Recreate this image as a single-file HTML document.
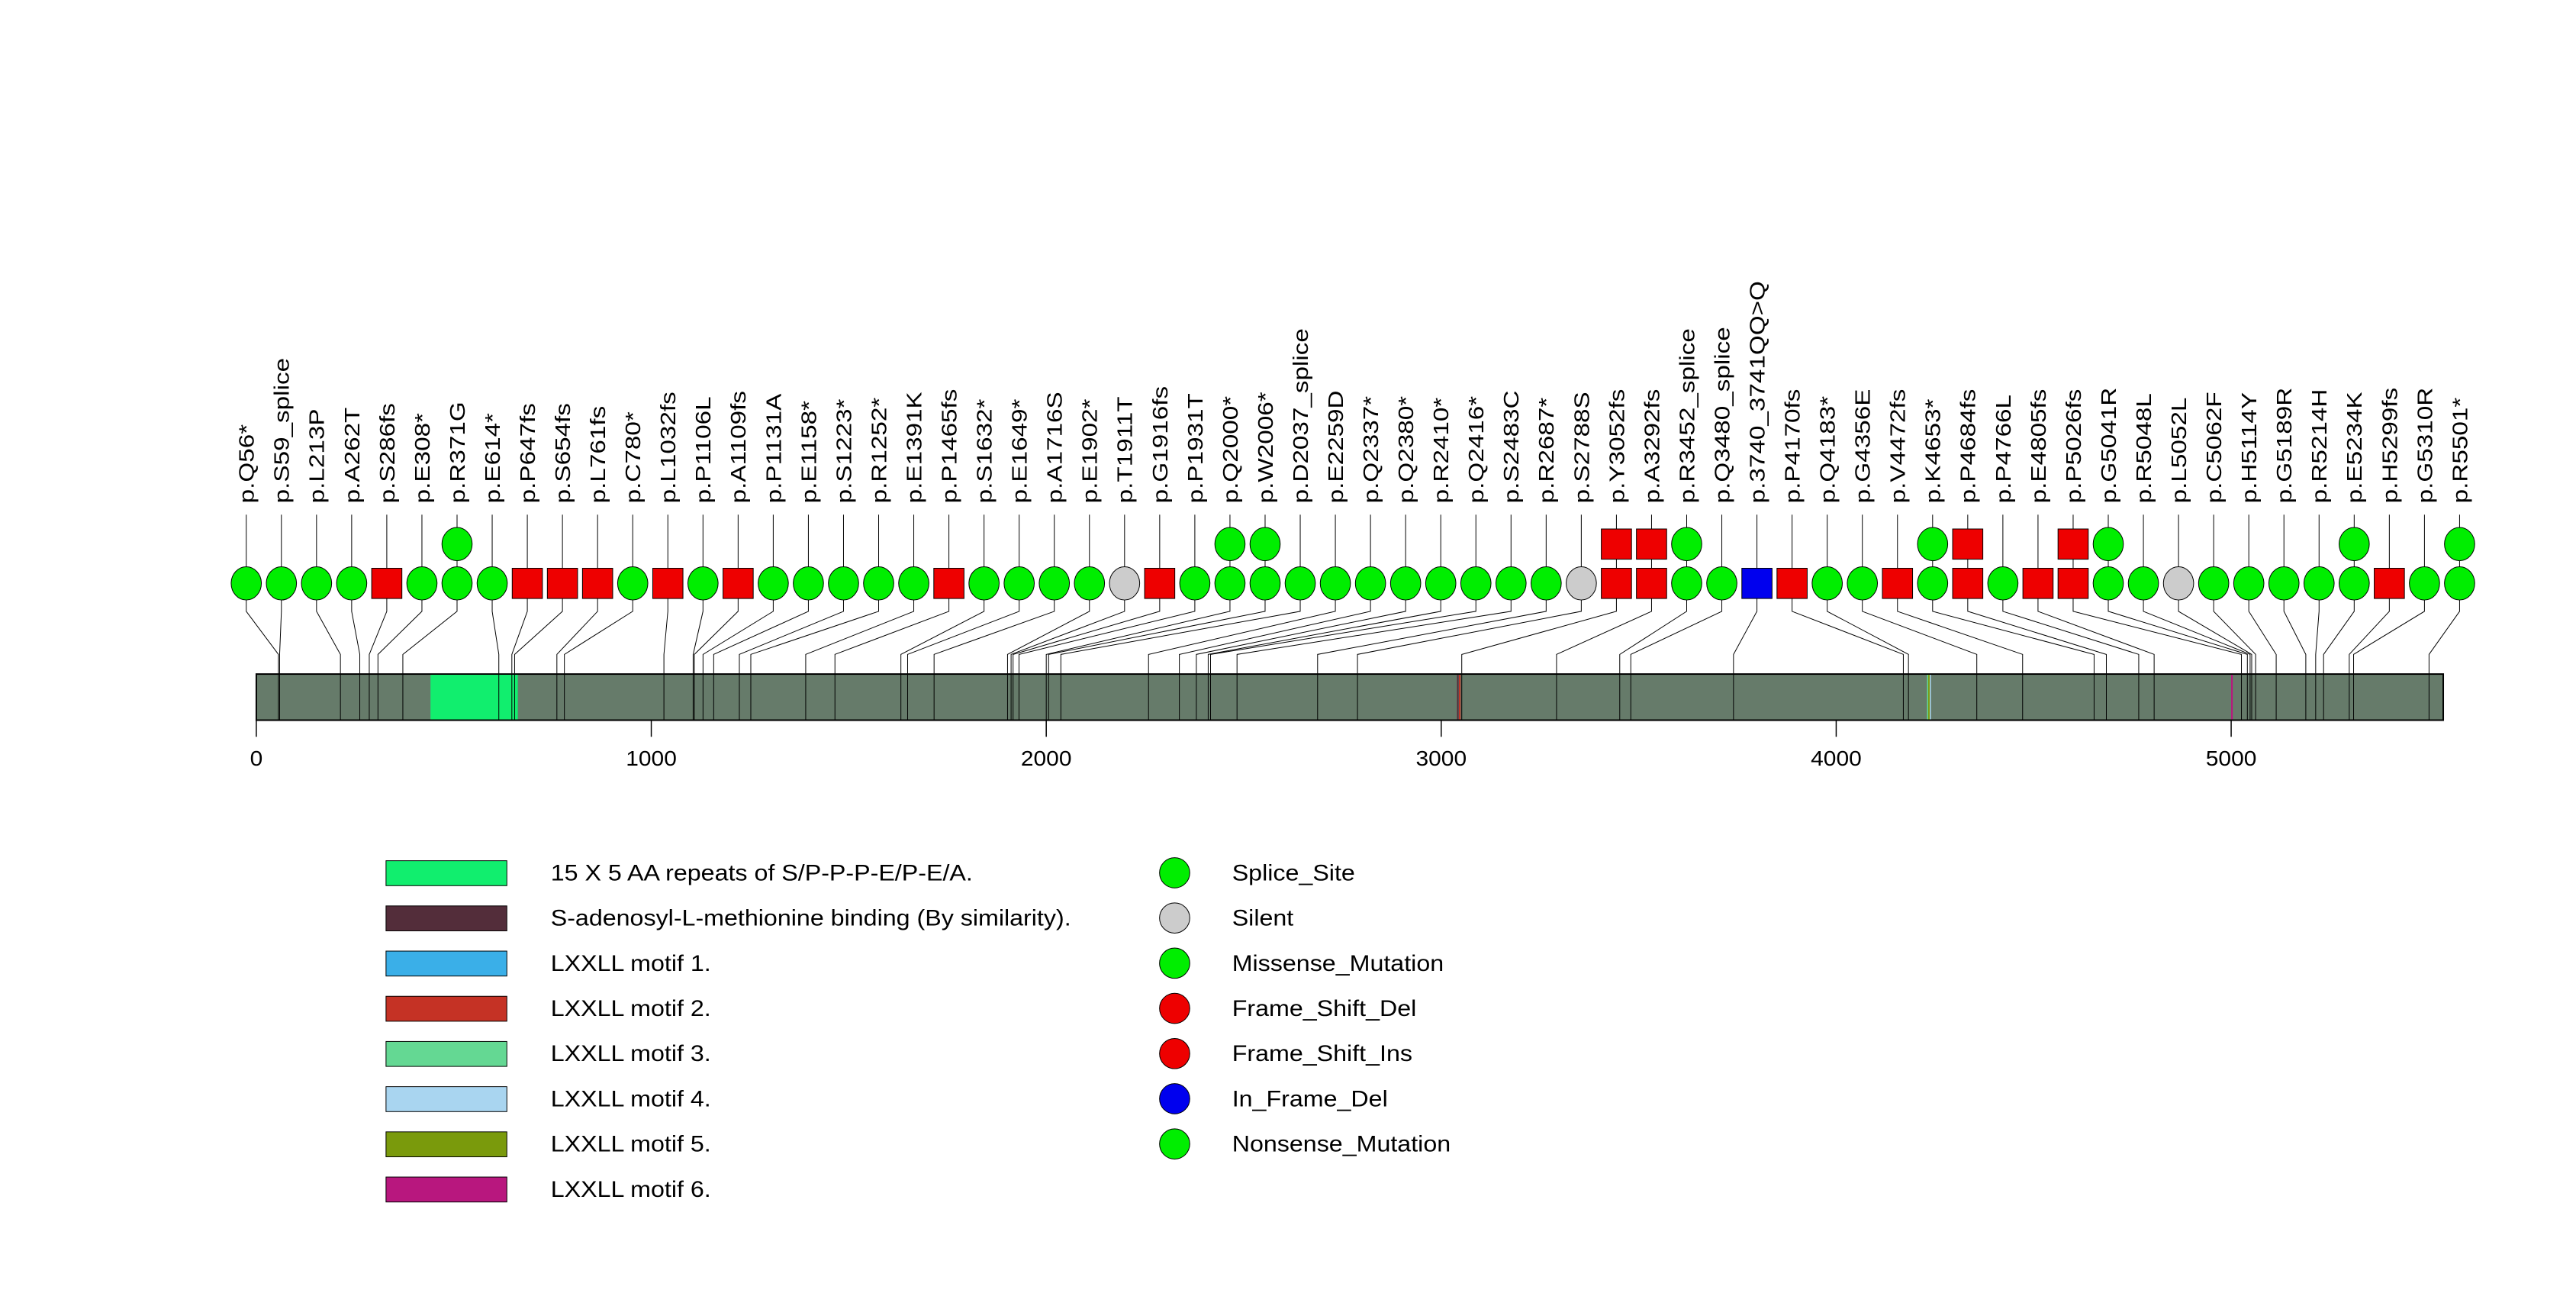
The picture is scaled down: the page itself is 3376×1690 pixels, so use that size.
<!DOCTYPE html>
<html><head><meta charset="utf-8"><style>
body{margin:0;background:#fff}
svg{display:block;font-family:"Liberation Sans",sans-serif}
</style></head><body>
<svg id="chart" width="3376" height="1690" viewBox="0 0 3376 1690" xmlns="http://www.w3.org/2000/svg">
<rect width="3376" height="1690" fill="#fff"/>
<g transform="scale(0.99)">
<g id="bar"></g>
<g id="conn"></g>
<g id="axis"></g>
<g id="marks"></g>
<g id="labels"></g>
<g id="legend"></g>
</g>
</svg>
<script>
const proteinLength = 5537;
const mutLabels = ["p.Q56*","p.S59_splice","p.L213P","p.A262T","p.S286fs","p.E308*","p.R371G","p.E614*","p.P647fs","p.S654fs","p.L761fs","p.C780*","p.L1032fs","p.P1106L","p.A1109fs","p.P1131A","p.E1158*","p.S1223*","p.R1252*","p.E1391K","p.P1465fs","p.S1632*","p.E1649*","p.A1716S","p.E1902*","p.T1911T","p.G1916fs","p.P1931T","p.Q2000*","p.W2006*","p.D2037_splice","p.E2259D","p.Q2337*","p.Q2380*","p.R2410*","p.Q2416*","p.S2483C","p.R2687*","p.S2788S","p.Y3052fs","p.A3292fs","p.R3452_splice","p.Q3480_splice","p.3740_3741QQ>Q","p.P4170fs","p.Q4183*","p.G4356E","p.V4472fs","p.K4653*","p.P4684fs","p.P4766L","p.E4805fs","p.P5026fs","p.G5041R","p.R5048L","p.L5052L","p.C5062F","p.H5114Y","p.G5189R","p.R5214H","p.E5234K","p.H5299fs","p.G5310R","p.R5501*"];
const mutPositions = [56,59,213,262,286,308,371,614,647,654,761,780,1032,1106,1109,1131,1158,1223,1252,1391,1465,1632,1649,1716,1902,1911,1916,1931,2000,2006,2037,2259,2337,2380,2410,2416,2483,2687,2788,3052,3292,3452,3480,3740,4170,4183,4356,4472,4653,4684,4766,4805,5026,5041,5048,5052,5062,5114,5189,5214,5234,5299,5310,5501];
// G=green, R=red square, S=silent grey, B=blue square
const row1Types = "GGGGRGGGRRRGRGRGGGGGRGGGGSRGGGGGGGGGGGSRRGGBRGGRGRGRRGGSGGGGGRGG";
const row2Types = "......G.....................GG.........RRG......GR..RG......G..G";
const domainNames = ["15 X 5 AA repeats of S/P-P-P-E/P-E/A.","S-adenosyl-L-methionine binding (By similarity).","LXXLL motif 1.","LXXLL motif 2.","LXXLL motif 3.","LXXLL motif 4.","LXXLL motif 5.","LXXLL motif 6."];
const domainStarts = [441,3040,4232,3045,4230,4236,4233,5000];
const domainEnds = [662,3044,4234,3047,4238,4238,4235,5004];
const domainColors = ["#11EE6E","#532D3A","#3AAFE8","#C53225","#64D893","#A9D5F0","#7A9A0C","#B8177E"];
const tickValues = [0,1000,2000,3000,4000,5000];
const legendTypes = ["Splice_Site","Silent","Missense_Mutation","Frame_Shift_Del","Frame_Shift_Ins","In_Frame_Del","Nonsense_Mutation"];
const legendColors = ["#00EE00","#CCCCCC","#00EE00","#EE0000","#EE0000","#0000EE","#00EE00"];

const NS="http://www.w3.org/2000/svg";
const X0=339.3, X1=339.3+5537*0.52286;
function xAA(a){return X0+a*(X1-X0)/proteinLength;}
function xSlot(i){return 326+i*(3256-326)/(mutLabels.length-1);}
function el(t,a,p){const e=document.createElementNS(NS,t);for(const k in a)e.setAttribute(k,a[k]);p.appendChild(e);return e;}
const conn=document.getElementById('conn'),bar=document.getElementById('bar'),axis=document.getElementById('axis'),marks=document.getElementById('marks'),labels=document.getElementById('labels'),legend=document.getElementById('legend');
const barTop=892,barBot=953,row1=772,row2=720;
const colorOf={G:"#00EE00",R:"#EE0000",S:"#CCCCCC",B:"#0000EE"};

let r=el('rect',{x:X0,y:barTop,width:X1-X0,height:barBot-barTop,fill:'#667B6A',stroke:'#000','stroke-width':2},bar);


domainStarts.forEach((s,i)=>{
  const d=el('rect',{x:xAA(s),y:barTop+1,width:Math.max(2,xAA(domainEnds[i])-xAA(s)),height:barBot-barTop-2,fill:domainColors[i]},bar);
  
  
});
el('line',{x1:xAA(0),x2:xAA(5000),y1:barBot,y2:barBot,stroke:'#000','stroke-width':2},axis);
tickValues.forEach(v=>{
  el('line',{x1:xAA(v),x2:xAA(v),y1:barBot,y2:barBot+22,stroke:'#000','stroke-width':1.5},axis);
  const t=el('text',{x:0,y:0,'font-size':28,'text-anchor':'middle',transform:`translate(${xAA(v)},1013) scale(1.08,1)`},axis);
  t.textContent=v;
  
  
});
mutLabels.forEach((lab,i)=>{
  const xs=xSlot(i),xp=xAA(mutPositions[i]);
  el('polyline',{points:`${xs},681 ${xs},809 ${xp},866 ${xp},${barBot}`,fill:'none',stroke:'#000','stroke-width':1},conn);
  const t=el('text',{x:0,y:0,'font-size':28,transform:`translate(${xs+10},666) rotate(-90) scale(1.2,1)`},labels);
  t.textContent=lab;
  
  
  [[row1Types[i],row1],[row2Types[i],row2]].forEach(([ty,y])=>{
    if(ty==='.')return;
    let m;
    if(ty==='R'||ty==='B') m=el('rect',{x:xs-20,y:y-20,width:40,height:40,fill:colorOf[ty],stroke:'#000','stroke-width':1},marks);
    else m=el('ellipse',{cx:xs,cy:y,rx:20,ry:22,fill:colorOf[ty],stroke:'#000','stroke-width':1},marks);
    
    
  });
});
domainNames.forEach((n,i)=>{
  const y=1155+i*59.8;
  const b=el('rect',{x:511,y:y-16,width:160,height:33,fill:domainColors[i],stroke:'#000','stroke-width':1},legend);
  
  
  const t=el('text',{x:0,y:0,'font-size':30,transform:`translate(729,${y+10}) scale(1.085,1)`},legend);
  t.textContent=n;
  
  
});
legendTypes.forEach((n,i)=>{
  const y=1155+i*59.8;
  const c=el('circle',{cx:1555,cy:y,r:20,fill:legendColors[i],stroke:'#000','stroke-width':1},legend);
  
  
  const t=el('text',{x:0,y:0,'font-size':30,transform:`translate(1631,${y+10}) scale(1.085,1)`},legend);
  t.textContent=n;
  
  
});
</script>
</body></html>
